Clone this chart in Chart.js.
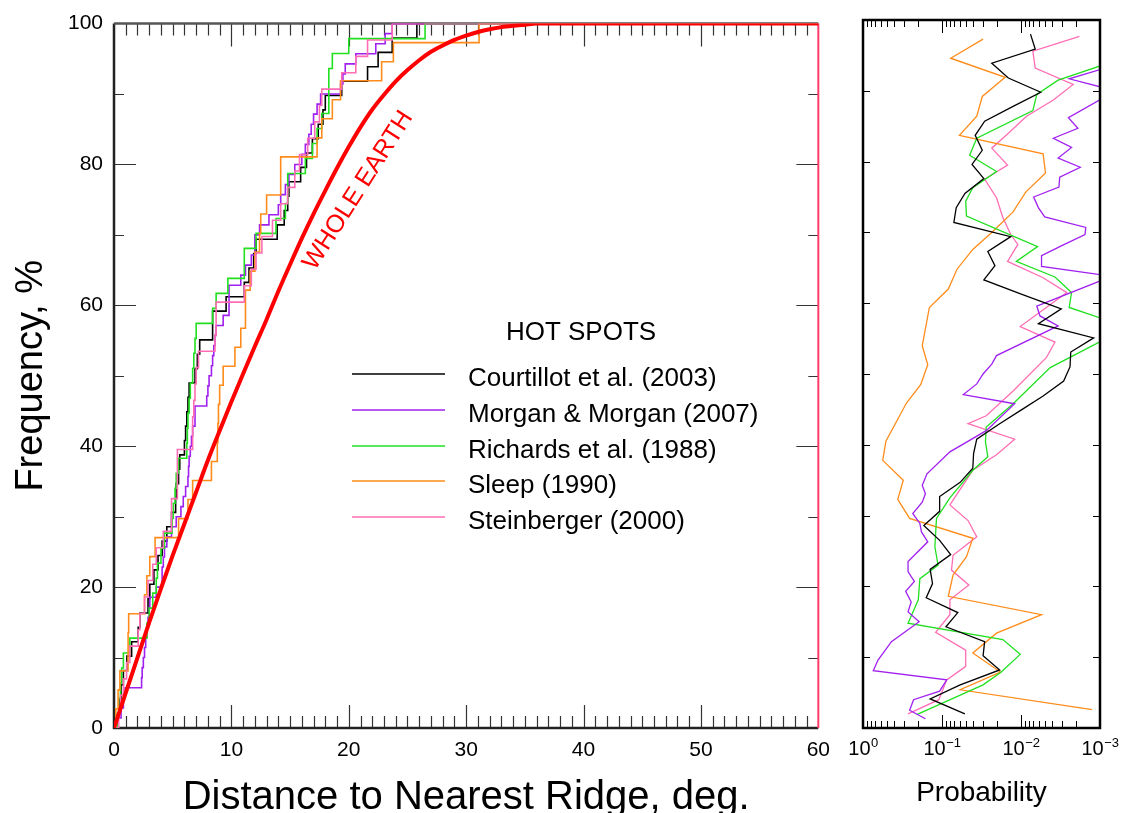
<!DOCTYPE html>
<html lang="en">
<head>
<meta charset="UTF-8">
<title>Distance to Nearest Ridge</title>
<script src="https://cdn.jsdelivr.net/npm/chart.js@4.4.0/dist/chart.umd.min.js"></script>
<style>
  body { margin: 0; background: #fff; }
  #wrap { position: relative; width: 1123px; height: 813px; }
  #left { position: absolute; left: 0; top: 0; }
  #right { position: absolute; left: 840px; top: 0; }
</style>
</head>
<body>
<div id="wrap">
  <canvas id="left" width="840" height="813"></canvas>
  <canvas id="right" width="283" height="813"></canvas>
</div>
<script>
// ---- data ----
const seriesNames = ['Courtillot et al. (2003)', 'Morgan & Morgan (2007)', 'Richards et al. (1988)', 'Sleep (1990)', 'Steinberger (2000)'];
const seriesColors = ['#000000', '#a020f0', '#20e020', '#ff8c1a', '#ff6eb4'];

// sorted hotspot distances to nearest ridge, deg
const distCourtillot = [0.3,0.45,0.6,0.8,1.1,1.5,2.06,2.2,2.9,3.05,3.4,3.75,4.1,4.5,4.9,5.25,5.3,5.5,5.6,6.0,6.1,6.2,6.3,6.4,6.9,7.1,7.3,8.4,8.4,9.55,11.1,11.5,11.9,12.1,13.9,14.5,14.8,14.9,15.9,16.4,16.9,17.4,17.8,18.0,19.4,21.6,22.5,23.7,25.8];
const distMorgan = [0.35,0.6,0.8,0.95,2.35,2.4,2.5,2.6,2.7,2.8,2.9,3.0,3.05,3.6,4.1,4.1,4.2,4.3,4.5,4.9,5.3,5.7,5.9,6.1,6.3,6.35,6.4,6.5,6.6,6.7,6.9,6.9,7.9,8.0,8.1,8.3,8.4,8.5,8.6,8.7,9.3,9.8,9.8,9.8,10.8,11.2,11.7,12.0,12.0,12.4,13.2,14.0,14.2,14.6,14.9,15.4,16.0,16.3,16.6,16.8,17.0,17.3,17.6,19.3,19.5,19.7,20.6,22.3,23.1,23.7];
const distRichards = [0.3,0.4,0.55,0.65,0.8,1.35,2.8,3.0,3.3,3.6,3.7,4.0,4.3,4.95,5.05,5.2,5.3,5.5,6.2,6.25,6.3,6.4,6.5,6.7,6.8,6.9,7.0,8.4,8.7,9.7,11.1,11.1,12.1,13.8,14.6,14.8,14.8,16.3,16.9,17.3,17.7,18.3,18.3,18.3,18.6,20.0,26.5];
const distSleep = [0.15,0.35,0.5,1.2,1.2,1.25,2.6,2.8,3.05,3.5,5.5,6.3,6.7,8.3,8.8,8.85,8.9,9.0,9.3,10.3,10.8,11.2,11.2,11.6,12.0,12.4,12.5,13.0,14.2,14.2,17.3,17.7,18.6,19.3,22.8,23.8,31.1];
const distSteinberger = [0.4,0.55,0.8,1.07,1.35,2.06,2.2,2.6,2.9,3.3,3.6,4.2,4.9,4.9,5.4,5.4,5.4,6.7,6.7,6.8,6.9,7.0,7.2,8.6,8.7,8.7,11.1,11.7,12.1,12.6,13.5,14.2,14.8,15.4,15.8,16.5,17.1,17.5,17.7,19.4,20.6,21.6,23.7];

// whole earth cumulative curve
const earthDist = [0,1,2,3,4,5,6,7,8,9,10,11,12,13,14,15,16,17,18,19,20,21,22,23,24,25,26,27,28,29,30,31,32,33,34,35,36,60];
const earthFreq = [0,5,10,15,19.8,24.5,29,33.5,38,42.2,46.3,50.3,54.2,58,62,65.8,69.5,73,76.3,79.5,82.5,85.3,87.8,89.9,91.8,93.4,94.8,96,96.9,97.7,98.3,98.8,99.2,99.5,99.7,99.85,100,100];

// probability panel: frequency level (%) and log10(probability)
const probFreqCourtillot = [2.0,4.1,6.1,8.2,10.2,12.2,14.3,16.3,18.4,20.4,22.4,24.5,26.5,28.6,30.6,32.7,34.7,36.7,38.8,40.8,42.9,44.9,46.9,49.0,51.0,53.1,55.1,57.1,59.2,61.2,63.3,65.3,67.3,69.4,71.4,73.5,75.5,77.6,79.6,81.6,83.7,85.7,87.8,89.8,91.8,93.9,95.9,98.0];
const probLogCourtillot = [-1.29,-0.85,-1.23,-1.73,-1.52,-1.54,-1.05,-1.20,-0.80,-0.88,-0.85,-1.11,-0.97,-0.77,-0.97,-0.97,-1.23,-1.39,-1.40,-1.44,-1.72,-2.00,-2.28,-2.54,-2.62,-2.63,-2.92,-2.22,-2.51,-2.02,-1.53,-1.67,-1.58,-1.87,-1.15,-1.18,-1.29,-1.53,-1.38,-1.51,-1.42,-1.54,-1.90,-2.25,-1.84,-1.63,-2.18,-2.12];
const probFreqMorgan = [1.3,2.5,4.0,5.2,6.8,8.1,9.6,12.2,15.0,16.4,17.8,19.3,20.7,22.1,23.5,26.3,27.7,28.9,30.3,31.9,33.1,34.3,35.9,39.0,42.0,45.8,47.1,48.6,50.0,51.4,52.6,56.8,58.2,59.6,63.8,65.2,66.7,68.1,69.7,70.7,72.2,73.5,75.0,76.4,77.8,79.2,80.5,82.0,83.3,84.7,86.2,90.0,91.7,94.3,97.1];
const probLogMorgan = [-0.79,-0.59,-0.64,-0.97,-1.06,-0.13,-0.19,-0.36,-0.71,-0.57,-0.61,-0.54,-0.65,-0.57,-0.57,-0.82,-0.74,-0.72,-0.63,-0.75,-0.79,-0.75,-0.81,-1.10,-1.56,-1.92,-1.27,-1.44,-1.52,-1.63,-1.69,-2.47,-2.24,-2.20,-3.15,-2.26,-2.26,-2.51,-2.81,-2.82,-2.30,-2.22,-2.16,-2.48,-2.49,-2.75,-2.47,-2.64,-2.41,-2.72,-2.60,-3.20,-2.61,-3.40,-3.50];
const probFreqRichards = [1.9,6.1,7.9,10.4,12.5,14.8,18.1,21.1,23.0,25.6,29.6,32.5,36.4,38.3,40.4,42.5,45.8,50.9,56.6,59.4,61.5,63.7,65.9,68.0,72.3,74.4,76.3,78.6,80.9,83.3,87.2,89.5,91.5,95.0,98.0];
const probLogRichards = [-0.68,-1.52,-1.75,-1.99,-1.77,-0.57,-0.70,-0.72,-0.95,-0.91,-0.93,-1.10,-1.39,-1.58,-1.55,-1.56,-1.90,-2.37,-3.35,-2.61,-2.64,-2.43,-1.94,-2.21,-1.31,-1.30,-1.39,-1.69,-1.35,-1.44,-2.15,-2.20,-2.47,-3.40,-3.60];
const probFreqSleep = [2.6,5.4,7.9,10.6,13.4,16.0,18.6,21.6,24.2,26.8,29.6,32.3,35.0,37.8,40.5,45.9,48.5,51.3,54.0,59.4,62.0,64.8,67.6,70.2,72.9,75.7,78.4,81.1,83.7,86.4,89.2,91.9,94.6,97.3];
const probLogSleep = [-2.90,-1.23,-1.74,-1.39,-1.69,-2.26,-1.08,-1.14,-1.31,-1.39,-0.59,-0.44,-0.51,-0.25,-0.29,-0.55,-0.73,-0.82,-0.75,-0.84,-1.08,-1.19,-1.39,-1.65,-1.90,-2.06,-2.31,-2.28,-1.22,-1.44,-1.51,-1.80,-1.11,-1.52];
const probFreqSteinberger = [2.0,4.0,6.8,8.7,11.0,13.5,16.0,18.1,20.2,22.3,24.4,27.0,29.3,31.5,36.4,38.6,40.8,43.0,44.1,47.6,52.3,54.5,56.7,61.5,63.6,65.9,68.3,69.7,72.1,74.9,77.5,79.5,81.9,83.8,86.4,88.7,90.9,93.2,95.6,97.7];
const probLogSteinberger = [-0.57,-0.96,-1.06,-1.30,-1.30,-0.92,-1.10,-1.10,-1.34,-1.12,-1.14,-1.44,-1.33,-1.10,-1.39,-1.69,-1.92,-1.33,-1.56,-1.90,-2.32,-2.43,-1.99,-2.58,-2.28,-1.83,-1.96,-1.87,-1.77,-1.69,-1.54,-1.83,-1.63,-1.82,-2.07,-2.41,-2.66,-2.18,-2.15,-2.74];

const xTicksLeft = [0, 10, 20, 30, 40, 50, 60];
const yTicksLeft = [0, 20, 40, 60, 80, 100];
const probExponents = [0, -1, -2, -3];

// ---- helpers ----
const FONT = "'Liberation Sans', Arial, Helvetica, sans-serif";
Chart.defaults.font.family = FONT;
Chart.defaults.color = '#000';

function cdfPoints(dist) {
  const n = dist.length;
  const pts = [{x: 0, y: 0}];
  dist.forEach((d, i) => pts.push({x: d, y: 100 * (i + 1) / n}));
  pts.push({x: 60, y: 100});
  return pts;
}

function probPoints(freq, logp) {
  return freq.map((f, i) => ({x: Math.pow(10, logp[i]), y: f}));
}

const allDist = [distCourtillot, distMorgan, distRichards, distSleep, distSteinberger];
const allProb = [
  [probFreqCourtillot, probLogCourtillot],
  [probFreqMorgan, probLogMorgan],
  [probFreqRichards, probLogRichards],
  [probFreqSleep, probLogSleep],
  [probFreqSteinberger, probLogSteinberger]
];

// ---- left panel ----
const leftFrame = {
  id: 'leftFrame',
  beforeDatasetsDraw(chart) {
    const {ctx, chartArea: a, scales: {x, y}} = chart;
    ctx.save();
    ctx.strokeStyle = '#333';
    ctx.lineWidth = 1.2;
    ctx.beginPath();
    for (let v = 1; v < 60; v++) {
      const px = Math.round(x.getPixelForValue(v)) + 0.5;
      const len = v % 10 === 0 ? 23 : 12;
      ctx.moveTo(px, a.bottom); ctx.lineTo(px, a.bottom - len);
      ctx.moveTo(px, a.top); ctx.lineTo(px, a.top + len);
    }
    for (let v = 10; v < 100; v += 10) {
      const py = Math.round(y.getPixelForValue(v)) + 0.5;
      const len = v % 20 === 0 ? 22 : 10;
      ctx.moveTo(a.left, py); ctx.lineTo(a.left + len, py);
      ctx.moveTo(a.right, py); ctx.lineTo(a.right - len, py);
    }
    ctx.stroke();

    ctx.lineWidth = 2.5;
    ctx.strokeStyle = '#222';
    ctx.beginPath();
    ctx.moveTo(a.left, a.top); ctx.lineTo(a.left, a.bottom); ctx.lineTo(a.right, a.bottom);
    ctx.stroke();
    ctx.strokeStyle = '#555';
    ctx.beginPath();
    ctx.moveTo(a.left, a.top); ctx.lineTo(a.right, a.top);
    ctx.stroke();
    ctx.strokeStyle = '#ff3b6b';
    ctx.lineWidth = 2;
    ctx.beginPath();
    ctx.moveTo(a.right, a.top); ctx.lineTo(a.right, a.bottom);
    ctx.stroke();
    ctx.restore();
  },
  afterDraw(chart) {
    const {ctx, chartArea: a, scales: {x, y}} = chart;
    ctx.save();
    ctx.fillStyle = '#000';

    // axis titles
    ctx.font = '40px ' + FONT;
    ctx.textAlign = 'center';
    ctx.textBaseline = 'alphabetic';
    ctx.fillText('Distance to Nearest Ridge, deg.', (a.left + a.right) / 2, 809);
    ctx.save();
    ctx.translate(42, (a.top + a.bottom) / 2);
    ctx.rotate(-Math.PI / 2);
    ctx.font = '38px ' + FONT;
    ctx.fillText('Frequency, %', 0, 0);
    ctx.restore();

    // legend
    ctx.font = '26px ' + FONT;
    ctx.textAlign = 'center';
    ctx.fillText('HOT SPOTS', 581, 340);
    const rows = [374, 410, 446, 481, 517];
    ctx.textAlign = 'left';
    seriesNames.forEach((name, i) => {
      ctx.strokeStyle = seriesColors[i];
      ctx.lineWidth = 1.6;
      ctx.beginPath();
      ctx.moveTo(352, rows[i]); ctx.lineTo(445, rows[i]);
      ctx.stroke();
      ctx.fillStyle = '#000';
      ctx.fillText(name, 468, rows[i] + 12);
    });

    // whole earth label
    ctx.save();
    ctx.translate(x.getPixelForValue(20.8), y.getPixelForValue(76.3));
    ctx.rotate(-57.5 * Math.PI / 180);
    ctx.fillStyle = '#ff0000';
    ctx.font = '25px ' + FONT;
    ctx.textAlign = 'center';
    ctx.textBaseline = 'middle';
    ctx.fillText('WHOLE EARTH', 0, 0);
    ctx.restore();
    ctx.restore();
  }
};

const leftDatasets = [{
  label: 'Whole Earth',
  data: earthDist.map((d, i) => ({x: d, y: earthFreq[i]})),
  borderColor: '#ff0000',
  borderWidth: 4,
  cubicInterpolationMode: 'monotone',
  pointRadius: 0
}];
for (let i = seriesNames.length - 1; i >= 0; i--) {
  leftDatasets.push({
    label: seriesNames[i],
    data: cdfPoints(allDist[i]),
    borderColor: seriesColors[i],
    borderWidth: 1.6,
    stepped: 'before',
    pointRadius: 0
  });
}

new Chart(document.getElementById('left'), {
  type: 'line',
  data: {datasets: leftDatasets},
  options: {
    responsive: false,
    animation: false,
    devicePixelRatio: 1,
    layout: {padding: {top: 20, right: 18, left: 0, bottom: 0}},
    plugins: {legend: {display: false}, tooltip: {enabled: false}},
    scales: {
      x: {
        type: 'linear', min: 0, max: 60,
        grid: {display: false, drawTicks: false},
        border: {display: false},
        afterBuildTicks: s => { s.ticks = xTicksLeft.map(v => ({value: v})); },
        ticks: {padding: 10, color: '#000', font: {size: 21}, maxRotation: 0},
        afterFit: s => { s.height = 85; }
      },
      y: {
        type: 'linear', min: 0, max: 100,
        grid: {display: false, drawTicks: false},
        border: {display: false},
        afterBuildTicks: s => { s.ticks = yTicksLeft.map(v => ({value: v})); },
        ticks: {padding: 11, color: '#000', font: {size: 21}},
        afterFit: s => { s.width = 114; }
      }
    }
  },
  plugins: [leftFrame]
});

// ---- right panel ----
const rightFrame = {
  id: 'rightFrame',
  afterDatasetsDraw(chart) {
    const {ctx, chartArea: a, scales: {x, y}} = chart;
    ctx.save();
    ctx.strokeStyle = '#000';
    ctx.lineWidth = 1;
    ctx.beginPath();
    for (let e = -3; e < 0; e++) {
      for (let m = 1; m <= 9; m++) {
        if (e === -3 && m === 1) continue;
        const px = Math.round(x.getPixelForValue(m * Math.pow(10, e))) + 0.5;
        const len = m === 1 ? 13 : 7;
        ctx.moveTo(px, a.bottom); ctx.lineTo(px, a.bottom - len);
        ctx.moveTo(px, a.top); ctx.lineTo(px, a.top + len);
      }
    }
    for (let v = 10; v < 100; v += 10) {
      const py = Math.round(y.getPixelForValue(v)) + 0.5;
      ctx.moveTo(a.left, py); ctx.lineTo(a.left + 7, py);
      ctx.moveTo(a.right, py); ctx.lineTo(a.right - 7, py);
    }
    ctx.stroke();
    ctx.lineWidth = 2.5;
    ctx.strokeRect(a.left, a.top, a.right - a.left, a.bottom - a.top);

    // tick labels 10^n
    ctx.fillStyle = '#000';
    ctx.textBaseline = 'alphabetic';
    ctx.textAlign = 'left';
    probExponents.forEach(e => {
      const px = x.getPixelForValue(Math.pow(10, e));
      const sup = e === 0 ? '0' : '\u2212' + (-e);
      ctx.font = '20px ' + FONT;
      const w1 = ctx.measureText('10').width;
      ctx.font = '13px ' + FONT;
      const w2 = ctx.measureText(sup).width;
      const x0 = px - (w1 + w2) / 2;
      ctx.font = '20px ' + FONT;
      ctx.fillText('10', x0, 755);
      ctx.font = '13px ' + FONT;
      ctx.fillText(sup, x0 + w1 + 0.5, 747);
    });

    ctx.font = '28px ' + FONT;
    ctx.textAlign = 'center';
    ctx.fillText('Probability', (a.left + a.right) / 2, 801);
    ctx.restore();
  }
};

const rightDatasets = [];
for (let i = 0; i < seriesNames.length; i++) {
  rightDatasets.push({
    label: seriesNames[i],
    data: probPoints(allProb[i][0], allProb[i][1]),
    borderColor: seriesColors[i],
    borderWidth: 1.3,
    pointRadius: 0,
    tension: 0
  });
}

new Chart(document.getElementById('right'), {
  type: 'line',
  data: {datasets: rightDatasets},
  options: {
    responsive: false,
    animation: false,
    devicePixelRatio: 1,
    layout: {padding: {top: 20, right: 23, left: 23, bottom: 85}},
    plugins: {legend: {display: false}, tooltip: {enabled: false}},
    scales: {
      x: {type: 'logarithmic', min: 0.001, max: 1, reverse: true, display: false},
      y: {type: 'linear', min: 0, max: 100, display: false}
    }
  },
  plugins: [rightFrame]
});
</script>
</body>
</html>
